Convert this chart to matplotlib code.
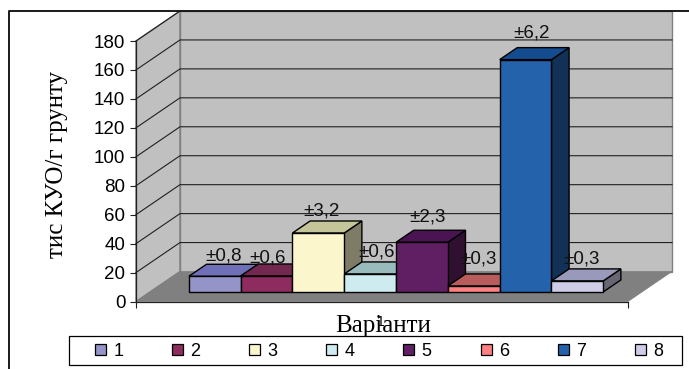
import matplotlib
matplotlib.use('Agg')
import matplotlib.pyplot as plt
from matplotlib.patches import Polygon, Patch, Rectangle
from matplotlib.colors import to_rgb

# 変量ごとの値
variants = ['1', '2', '3', '4', '5', '6', '7', '8']
values = [10.8, 11, 40.7, 12.4, 34.3, 4.1, 160.5, 7.6]
errors = ['±0,8', '±0,6', '±3,2', '±0,6', '±2,3', '±0,3', '±6,2', '±0,3']
colors = ['#9494C8', '#8E2C60', '#FBF6CC', '#CEECEF', '#5F1F62', '#FF8080', '#2462AC', '#CFCCE8']
top_colors = ['#7070B8', '#72284F', '#C5C59A', '#99BBBB', '#4A1452', '#B85C5C', '#144C90', '#9999BB']
y_ticks = [0, 20, 40, 60, 80, 100, 120, 140, 160, 180]

# ラベルの微調整 (px)
label_shift = [(4, -2), (-4, -4), (-1.5, 0), (1, 0), (0.7, 3), (0, 5), (1, 5), (-1.3, 0)]

W, H = 689, 369
LEFT, RIGHT, BOTTOM, TOP = 136, 628, 301.5, 41
UNIT = 51.8
GAP = (492 / UNIT - 8) / 2
DEPTH_X = 44 / UNIT
DEPTH_Y = 30 / ((BOTTOM - TOP) / 180)
BAR_Z0, BAR_Z1 = 0.32, 0.72
WALL = '#C0C0C0'
FLOOR = '#808080'
SANS = 'Liberation Sans'
SERIF = 'Liberation Serif'
PT = 72 / 100


def shade(color, k):
    return tuple(c * k for c in to_rgb(color))


def skew(x, y, z):
    """奥行き z の点を正面座標へ写す"""
    return (x + z * DEPTH_X, y + z * DEPTH_Y)


def face(ax, pts, color, edge='black', lw=1.0, z=2):
    ax.add_patch(Polygon(pts, closed=True, facecolor=color, edgecolor=edge,
                         linewidth=lw, joinstyle='miter', clip_on=False, zorder=z))


fig = plt.figure(figsize=(W / 100, H / 100), dpi=100, facecolor='white')
ax = fig.add_axes([LEFT / W, 1 - BOTTOM / H, (RIGHT - LEFT) / W, (BOTTOM - TOP) / H])
x0, x1 = -GAP, len(values) + GAP
ax.set_xlim(x0, x1)
ax.set_ylim(0, 180)
ax.patch.set_visible(False)
for s in ['top', 'right']:
    ax.spines[s].set_visible(False)

# 壁と床
face(ax, [skew(x0, 0, 0), skew(x0, 0, 1), skew(x0, 180, 1), skew(x0, 180, 0)], WALL, FLOOR, 1.0, 1)
face(ax, [skew(x0, 0, 1), skew(x1, 0, 1), skew(x1, 180, 1), skew(x0, 180, 1)], WALL, FLOOR, 1.0, 1)
face(ax, [skew(x0, 0, 0), skew(x1, 0, 0), skew(x1, 0, 1), skew(x0, 0, 1)], FLOOR, FLOOR, 0.5, 1)

# 目盛り線
for t in y_ticks[1:]:
    ax.plot(*zip(skew(x0, t, 0), skew(x0, t, 1), skew(x1, t, 1)), color='#202020', lw=0.8,
            clip_on=False, zorder=1.5)

# 棒
for i, (v, c, tc) in enumerate(zip(values, colors, top_colors)):
    l, r = i, i + 1
    face(ax, [skew(r, 0, BAR_Z0), skew(r, 0, BAR_Z1), skew(r, v, BAR_Z1), skew(r, v, BAR_Z0)], shade(c, 0.5))
    face(ax, [skew(l, v, BAR_Z0), skew(r, v, BAR_Z0), skew(r, v, BAR_Z1), skew(l, v, BAR_Z1)], tc)
    face(ax, [skew(l, 0, BAR_Z0), skew(r, 0, BAR_Z0), skew(r, v, BAR_Z0), skew(l, v, BAR_Z0)], c)

# 誤差の表示
for i, (v, e) in enumerate(zip(values, errors)):
    dx, dy = label_shift[i]
    ax.annotate(e, xy=skew(i + 0.5, v, BAR_Z1),
                xytext=((dx + 5 - (BAR_Z1 - BAR_Z0) * 44) * PT, (dy + 10) * PT),
                textcoords='offset points', ha='center', va='center', fontsize=13.5,
                family=SANS, color='#111111', annotation_clip=False, zorder=5)

ax.set_yticks(y_ticks)
ax.set_xticks([x0, x1])
ax.set_xticklabels([])
ax.tick_params(axis='both', length=4, width=0.8, color='#202020')
ax.tick_params(axis='y', labelsize=13.5, pad=3.7)
for lab in ax.get_yticklabels():
    lab.set_family(SANS)
for s in ['left', 'bottom']:
    ax.spines[s].set_linewidth(0.9)
    ax.spines[s].set_color('#202020')

fig.text(57 / W, 1 - 164.5 / H, 'тис КУО/г грунту', rotation=90, ha='center', va='center',
         family=SERIF, fontsize=18)
fig.text(383 / W, 1 - 326 / H, 'Варіанти', ha='center', va='center', family=SERIF, fontsize=18)
fig.text(381 / W, 1 - 322 / H, '1', ha='center', va='center', family=SANS, fontsize=10)

# 外枠
fig.add_artist(plt.Line2D([9 / W, 9 / W, 1], [0, 1 - 11 / H, 1 - 11 / H], color='#1a1a1a', lw=1.4))

# 凡例
fig.add_artist(Rectangle((68.5 / W, 1 - 365 / H), (682 - 68.5) / W, 29 / H, transform=fig.transFigure,
                         facecolor='white', edgecolor='black', linewidth=0.9))
handles = [Patch(facecolor=c, edgecolor='black', linewidth=0.9) for c in colors]
fig.legend(handles, variants, ncol=8, loc='center left', mode='expand',
           bbox_to_anchor=(95 / W, 1 - 366 / H, (663 - 95) / W, 29 / H),
           prop={'family': SANS, 'size': 13}, frameon=False, borderaxespad=0,
           handlelength=0.61, handleheight=0.5, handletextpad=0.4, borderpad=0)

fig.savefig('out.png', dpi=100)
